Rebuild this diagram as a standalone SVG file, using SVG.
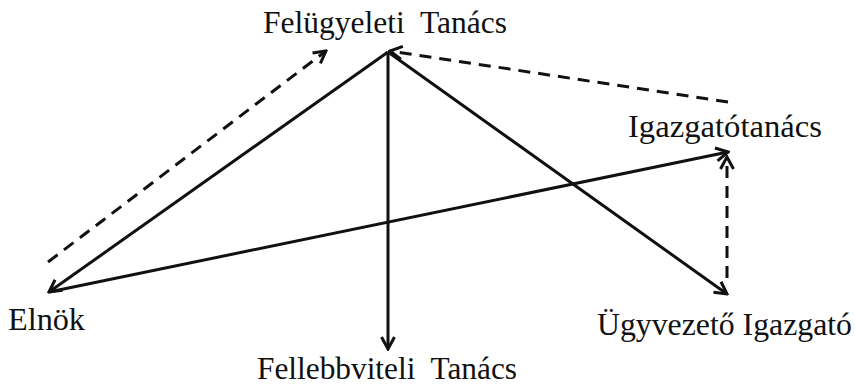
<svg xmlns="http://www.w3.org/2000/svg" width="855" height="387" viewBox="0 0 855 387">
<defs>
<style>
.lbl{font-family:'Liberation Serif','DejaVu Serif',serif;font-size:31px;fill:#111}
.c{stroke:#111;stroke-width:3;fill:none;marker-end:url(#ah)}
.d{stroke-dasharray:12 8}
</style>
<marker id="ah" viewBox="0 0 16 16" refX="14" refY="8" markerWidth="16" markerHeight="16" markerUnits="userSpaceOnUse" orient="auto">
<path d="M2,1.5 L14,8 L2,14.5" fill="none" stroke="#111" stroke-width="3" stroke-linejoin="miter"/>
</marker>
</defs>
<rect width="855" height="387" fill="#fff"/>
<g id="connectors">
<line class="c" x1="388" y1="52" x2="49" y2="292"/>
<line class="c" x1="388" y1="52" x2="388" y2="349"/>
<line class="c" x1="388" y1="52" x2="727" y2="294"/>
<line class="c" x1="49" y1="292" x2="728" y2="152"/>
<line class="c d" x1="48" y1="262" x2="326" y2="51"/>
<line class="c d" x1="728" y1="102" x2="390" y2="51"/>
<line class="c d" x1="727" y1="278" x2="727" y2="157"/>
</g>
<g id="felugyeleti"><text class="lbl" font-family="Liberation Serif, serif" x="263" y="33" textLength="244" lengthAdjust="spacingAndGlyphs" xml:space="preserve">Felügyeleti  Tanács</text></g>
<g id="elnok"><text class="lbl" font-family="Liberation Serif, serif" x="8" y="330" textLength="77" lengthAdjust="spacingAndGlyphs">Elnök</text></g>
<g id="igazgatotanacs"><text class="lbl" font-family="Liberation Serif, serif" x="628" y="137" textLength="194" lengthAdjust="spacingAndGlyphs">Igazgatótanács</text></g>
<g id="ugyvezeto"><text class="lbl" font-family="Liberation Serif, serif" x="597" y="335" textLength="255" lengthAdjust="spacingAndGlyphs">Ügyvezető Igazgató</text></g>
<g id="fellebbviteli"><text class="lbl" font-family="Liberation Serif, serif" x="257" y="379" textLength="260" lengthAdjust="spacingAndGlyphs" xml:space="preserve">Fellebbviteli  Tanács</text></g>
</svg>
